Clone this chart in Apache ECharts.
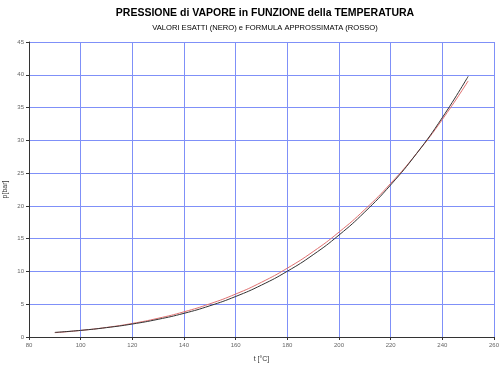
<!DOCTYPE html>
<html><head><meta charset="utf-8">
<script src="https://cdn.jsdelivr.net/npm/echarts@6/dist/echarts.min.js"></script>
<style>html,body{margin:0;padding:0;background:#fff}#c{width:500px;height:366px}</style>
</head><body><div id="c"></div>
<script>
var temps = [90,100,110,120,130,140,150,160,170,180,190,200,210,220,230,240,250];
var exactP = [0.70,1.01,1.43,1.98,2.70,3.61,4.76,6.18,7.92,10.03,12.55,15.55,19.08,23.20,27.97,33.47,39.76];
var approxP = [0.66,1.00,1.46,2.07,2.86,3.84,5.06,6.55,8.35,10.50,13.03,16.00,19.45,23.43,27.98,33.18,39.06];
var titleText = 'PRESSIONE di VAPORE in FUNZIONE della TEMPERATURA';
var subText = 'VALORI ESATTI (NERO) e FORMULA APPROSSIMATA (ROSSO)';

function pairs(xs, ys){ return xs.map(function(x,i){return [x, ys[i]];}); }

var chart = echarts.init(document.getElementById('c'));
chart.setOption({
  animation:false,
  backgroundColor:'#fff',
  title:[
    {text:titleText, left:260, top:3, textAlign:'center',
     textStyle:{fontFamily:'Liberation Sans', fontSize:10.5, fontWeight:'bold', color:'#000'}},
    {text:subText, left:260, top:19, textAlign:'center',
     textStyle:{fontFamily:'Liberation Sans', fontSize:7.6, fontWeight:'normal', color:'#000'}}
  ],
  grid:{left:29, right:6, top:42, bottom:29, containLabel:false, outerBoundsMode:'none'},
  xAxis:{type:'value', min:80, max:260, interval:20,
    name:'t [°C]', nameLocation:'middle', nameGap:19, nameMoveOverlap:false,
    nameTextStyle:{fontFamily:'Liberation Sans', fontSize:7, color:'#333'},
    axisLine:{show:true, onZero:false, lineStyle:{color:'#333', width:1}},
    axisTick:{show:true, length:3, lineStyle:{color:'#333'}},
    axisLabel:{fontFamily:'Liberation Sans', fontSize:6, color:'#666', margin:5},
    splitLine:{show:true, lineStyle:{color:'#7f90f8', width:1}}
  },
  yAxis:{type:'value', min:0, max:45, interval:5,
    name:'p[bar]', nameLocation:'middle', nameGap:20, nameRotate:90, nameMoveOverlap:false,
    nameTextStyle:{fontFamily:'Liberation Sans', fontSize:7, color:'#333'},
    axisLine:{show:true, lineStyle:{color:'#333', width:1}},
    axisTick:{show:true, length:3, lineStyle:{color:'#333'}},
    axisLabel:{fontFamily:'Liberation Sans', fontSize:6, color:'#666', margin:5},
    splitLine:{show:true, lineStyle:{color:'#7f90f8', width:1}}
  },
  series:[
    {type:'line', data:pairs(temps, approxP), smooth:true, showSymbol:false,
     lineStyle:{color:'#e07070', width:1}, z:2},
    {type:'line', data:pairs(temps, exactP), smooth:true, showSymbol:false,
     lineStyle:{color:'#333', width:1}, z:3}
  ]
});
</script></body></html>
